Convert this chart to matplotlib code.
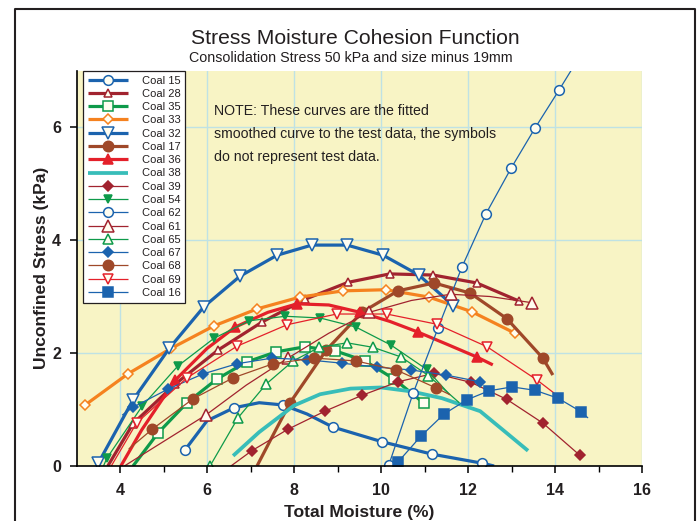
import matplotlib
matplotlib.use("Agg")
import matplotlib.pyplot as plt
from matplotlib.lines import Line2D

plt.rcParams['font.family'] = ['Liberation Sans', 'DejaVu Sans']

# ---------------- data ----------------
c15_x = [5.49, 6.0, 6.62, 7.2, 7.75, 8.3, 8.89, 10.02, 11.17, 12.32, 12.6]
c15_y = [0.28, 0.80, 1.03, 1.12, 1.08, 0.92, 0.69, 0.43, 0.21, 0.05, 0.0]
c15_m = [0, 2, 4, 6, 7, 8, 9]

c28_x = [3.72, 4.3, 5.27, 6.25, 7.27, 8.25, 9.24, 10.2, 11.2, 12.2, 13.17]
c28_y = [0.0, 0.75, 1.45, 2.05, 2.55, 2.95, 3.25, 3.40, 3.38, 3.24, 2.92]
c28_m = [1, 2, 3, 4, 5, 6, 7, 8, 9, 10]

c35_x = [4.3, 4.87, 5.54, 6.23, 6.91, 7.59, 8.25, 8.94, 9.63, 10.3, 10.99]
c35_y = [0.0, 0.58, 1.12, 1.54, 1.84, 2.02, 2.11, 2.04, 1.86, 1.54, 1.11]
c35_m = [1, 2, 3, 4, 5, 6, 7, 8, 9, 10]

c33_x = [3.2, 4.18, 5.17, 6.16, 7.15, 8.14, 9.13, 10.11, 11.10, 12.09, 13.08]
c33_y = [1.08, 1.63, 2.08, 2.48, 2.78, 2.99, 3.10, 3.12, 2.99, 2.73, 2.35]
c33_m = list(range(11))

c32_x = [3.5, 4.3, 5.13, 5.93, 6.76, 7.61, 8.41, 9.22, 10.05, 10.87, 11.66]
c32_y = [0.05, 1.17, 2.08, 2.82, 3.36, 3.73, 3.91, 3.91, 3.73, 3.38, 2.84]
c32_m = list(range(11))

c17_x = [7.15, 7.5, 7.91, 8.74, 9.56, 10.39, 11.22, 12.05, 12.89, 13.72, 13.95]
c17_y = [0.0, 0.52, 1.12, 2.05, 2.72, 3.10, 3.24, 3.06, 2.61, 1.91, 1.61]
c17_m = [2, 3, 4, 5, 6, 7, 8, 9]

c36_x = [4.02, 4.5, 5.27, 6.0, 6.65, 7.4, 8.07, 8.8, 9.52, 10.2, 10.85, 11.5, 12.2, 12.57]
c36_y = [0.0, 0.64, 1.52, 2.08, 2.46, 2.72, 2.87, 2.85, 2.72, 2.56, 2.37, 2.16, 1.93, 1.79]
c36_m = [2, 4, 6, 8, 10, 12]

c38_x = [6.6, 7.2, 8.0, 8.6, 9.3, 10.0, 10.7, 11.4, 12.28, 12.8, 13.38]
c38_y = [0.18, 0.60, 1.07, 1.27, 1.37, 1.39, 1.32, 1.20, 0.97, 0.64, 0.27]
c38_m = []

c39_x = [6.55, 7.03, 7.86, 8.71, 9.56, 10.39, 11.22, 12.07, 12.89, 13.72, 14.57]
c39_y = [0.0, 0.27, 0.65, 0.97, 1.25, 1.49, 1.64, 1.48, 1.18, 0.76, 0.19]
c39_m = [1, 2, 3, 4, 5, 6, 7, 8, 9, 10]

c54_x = [3.62, 3.70, 4.51, 5.33, 6.16, 6.97, 7.8, 8.6, 9.42, 10.23, 11.05, 11.58]
c54_y = [0.0, 0.14, 1.06, 1.77, 2.26, 2.57, 2.65, 2.62, 2.46, 2.14, 1.71, 1.26]
c54_m = [1, 2, 3, 4, 5, 6, 7, 8, 9, 10]

c62_x = [10.18, 10.74, 11.31, 11.86, 12.41, 12.99, 13.54, 14.09, 14.45]
c62_y = [0.02, 1.29, 2.44, 3.52, 4.46, 5.27, 5.98, 6.65, 7.1]
c62_m = [0, 1, 2, 3, 4, 5, 6, 7]

c61_x = [4.1, 5.97, 6.9, 7.86, 8.8, 9.73, 10.7, 11.6, 12.5, 13.47]
c61_y = [0.0, 0.9, 1.43, 1.91, 2.35, 2.72, 2.93, 3.04, 3.0, 2.89]
c61_m = [1, 3, 5, 7, 9]

c65_x = [6.07, 6.71, 7.36, 7.98, 8.58, 9.22, 9.82, 10.46, 11.09, 11.8]
c65_y = [0.0, 0.85, 1.45, 1.86, 2.10, 2.18, 2.10, 1.93, 1.60, 1.12]
c65_m = [0, 1, 2, 3, 4, 5, 6, 7, 8]

c67_x = [4.05, 4.30, 5.10, 5.91, 6.69, 7.50, 8.30, 9.10, 9.91, 10.69, 11.49, 12.28]
c67_y = [0.90, 1.04, 1.36, 1.63, 1.81, 1.91, 1.88, 1.82, 1.75, 1.70, 1.61, 1.49]
c67_m = [1, 2, 3, 4, 5, 6, 7, 8, 9, 10, 11]

c68_x = [4.2, 4.74, 5.68, 6.60, 7.52, 8.46, 9.42, 10.35, 11.27, 11.59]
c68_y = [0.30, 0.65, 1.19, 1.56, 1.81, 1.91, 1.86, 1.70, 1.38, 1.26]
c68_m = [1, 2, 3, 4, 5, 6, 7, 8]

c69_x = [3.8, 4.38, 5.54, 6.69, 7.84, 8.98, 10.13, 11.28, 12.44, 13.59, 13.98]
c69_y = [0.0, 0.76, 1.56, 2.12, 2.50, 2.69, 2.69, 2.51, 2.11, 1.52, 1.29]
c69_m = [1, 2, 3, 4, 5, 6, 7, 8, 9]

c16_x = [10.39, 10.92, 11.45, 11.97, 12.48, 13.01, 13.54, 14.07, 14.60, 14.76]
c16_y = [0.07, 0.53, 0.92, 1.17, 1.33, 1.40, 1.34, 1.20, 0.96, 0.85]
c16_m = [0, 1, 2, 3, 4, 5, 6, 7, 8]

labels = ["Coal 15", "Coal 28", "Coal 35", "Coal 33", "Coal 32", "Coal 17", "Coal 36",
          "Coal 38", "Coal 39", "Coal 54", "Coal 62", "Coal 61", "Coal 65", "Coal 67",
          "Coal 68", "Coal 69", "Coal 16"]
xs = [c15_x, c28_x, c35_x, c33_x, c32_x, c17_x, c36_x, c38_x, c39_x, c54_x, c62_x,
      c61_x, c65_x, c67_x, c68_x, c69_x, c16_x]
ys = [c15_y, c28_y, c35_y, c33_y, c32_y, c17_y, c36_y, c38_y, c39_y, c54_y, c62_y,
      c61_y, c65_y, c67_y, c68_y, c69_y, c16_y]
ms = [c15_m, c28_m, c35_m, c33_m, c32_m, c17_m, c36_m, c38_m, c39_m, c54_m, c62_m,
      c61_m, c65_m, c67_m, c68_m, c69_m, c16_m]

# ---------------- styles ----------------
BLUE = '#1b63ae'
DRED = '#a1232f'
GREEN = '#0e9a4a'
ORANGE = '#f5821f'
BROWN = '#9f4829'
RED = '#e4202a'
CYAN = '#38bdb9'
OPEN = '#fffdf0'
THICK = 2.3
THIN = 0.9

# color, linewidth, marker, markersize, facecolor
styles = [
    (BLUE, THICK, 'o', 7, OPEN),
    (DRED, THICK, '^', 6, OPEN),
    (GREEN, THICK, 's', 7, OPEN),
    (ORANGE, THICK, 'D', 5.5, OPEN),
    (BLUE, THICK, 'v', 8, OPEN),
    (BROWN, THICK, 'o', 7.5, BROWN),
    (RED, THICK, '^', 6.5, RED),
    (CYAN, THICK + 0.4, None, 0, None),
    (DRED, THIN, 'D', 5, DRED),
    (GREEN, THIN, 'v', 6, GREEN),
    (BLUE, THIN, 'o', 7, OPEN),
    (DRED, THIN, '^', 8.5, OPEN),
    (GREEN, THIN, '^', 6.5, OPEN),
    (BLUE, THIN, 'D', 5.5, BLUE),
    (BROWN, THIN, 'o', 7.5, BROWN),
    (RED, THIN, 'v', 7, OPEN),
    (BLUE, THIN, 's', 7, BLUE),
]

fig = plt.figure(figsize=(6.99, 5.21), dpi=100)
ax = fig.add_axes([76.5 / 699, 55 / 521, (642 - 76.5) / 699, (466 - 70.5) / 521])
ax.set_facecolor('#f8f4c5')

for x, y, m, lab, st in zip(xs, ys, ms, labels, styles):
    col, lw, mk, msz, fc = st
    kw = dict(color=col, linewidth=lw, label=lab, clip_on=True, solid_capstyle='butt')
    if mk is not None:
        kw.update(marker=mk, markersize=msz, markerfacecolor=fc,
                  markeredgecolor=col, markeredgewidth=1.1, markevery=m)
    ax.plot(x, y, **kw)

ax.set_xlim(3, 16)
ax.set_ylim(0, 7)
ax.set_xticks([4, 6, 8, 10, 12, 14, 16])
ax.set_xticks([5, 7, 9, 11, 13, 15], minor=True)
ax.set_yticks([0, 2, 4, 6])
ax.grid(True, which='major', color='#bfe2e4', linewidth=1.0)
ax.set_axisbelow(True)
for s in ['top', 'right']:
    ax.spines[s].set_visible(False)
for s in ['left', 'bottom']:
    ax.spines[s].set_linewidth(1.2)
ax.tick_params(axis='x', which='major', direction='out', length=5, width=1.1, pad=7)
ax.tick_params(axis='x', which='minor', direction='out', length=4, width=1.0)
ax.tick_params(axis='y', which='major', direction='out', length=5, width=1.1, pad=6)
for t in ax.get_xticklabels() + ax.get_yticklabels():
    t.set_fontsize(11.5)
    t.set_fontweight('bold')
    t.set_color('#231f20')

ax.set_xlabel('Total Moisture (%)', fontsize=12.6, fontweight='bold', color='#231f20', labelpad=5)
ax.set_ylabel('Unconfined Stress (kPa)', fontsize=12.6, fontweight='bold', color='#231f20')
ax.yaxis.set_label_coords(-0.048, 0.5)

leg = ax.legend(loc='upper left', bbox_to_anchor=(0.011, 1.0), borderaxespad=0.0, fontsize=8,
                handlelength=3.6, handletextpad=1.25, labelspacing=0.295, borderpad=0.45,
                frameon=True, fancybox=False, edgecolor='#231f20', framealpha=1.0)
leg.get_frame().set_linewidth(0.9)
for t in leg.get_texts():
    t.set_color('#231f20')

ax.text(0.244, 0.915, 'NOTE: These curves are the fitted\nsmoothed curve to the test data, the symbols\ndo not represent test data.',
        transform=ax.transAxes, fontsize=10.2, color='#231f20', va='top', ha='left', linespacing=1.8)

fig.text(355 / 699, 1 - 38 / 521, 'Stress Moisture Cohesion Function', ha='center', va='center',
         fontsize=15.2, color='#231f20')
fig.text(351 / 699, 1 - 58 / 521, 'Consolidation Stress 50 kPa and size minus 19mm', ha='center', va='center',
         fontsize=10.3, color='#231f20')

# outer frame
frame = Line2D([15 / 699, 15 / 699, 695 / 699, 695 / 699],
               [-0.05, 1 - 9 / 521, 1 - 9 / 521, -0.05],
               transform=fig.transFigure, color='#231f20', linewidth=1.5)
fig.add_artist(frame)

fig.savefig('out.png', dpi=100)
